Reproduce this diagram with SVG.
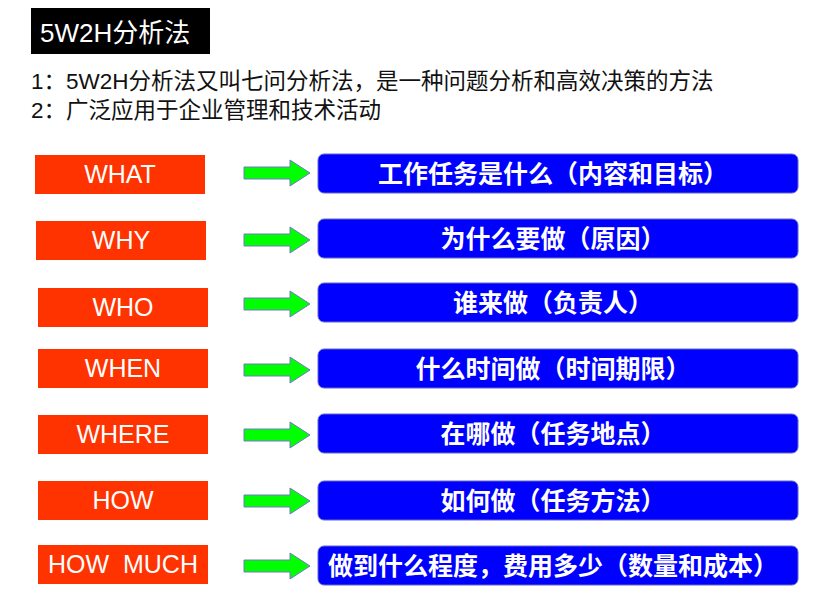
<svg xmlns="http://www.w3.org/2000/svg" width="831" height="605" viewBox="0 0 831 605">
<style>
.k{fill:#ff3300}
.b{fill:#0000ff;stroke:#6666cc;stroke-width:1}
.kt{font-family:"Liberation Sans","Noto Sans CJK SC",sans-serif;font-size:25px;fill:#fff;text-anchor:middle}
.bt{font-family:"Noto Sans CJK SC",sans-serif;font-size:25px;font-weight:bold;fill:#fff;text-anchor:middle}
.d{font-family:"Liberation Sans","Noto Sans CJK SC",sans-serif;font-size:22.5px;fill:#111}
.a{fill:#00ff00;stroke:#7777cc;stroke-width:1}
</style>
<defs><path id="ar" class="a" d="M244,-6 H290 V-13 L310,0 L290,13 V6 H244 Z"/></defs>
<rect width="831" height="605" fill="#fff"/>
<g id="title"><rect x="31" y="8" width="179" height="46" fill="#000"/>
<text x="40" y="42" font-family="Liberation Sans,'Noto Sans CJK SC',sans-serif" font-size="26" fill="#fff">5W2H分析法</text></g>
<g id="desc"><text class="d" x="31" y="89">1：5W2H分析法又叫七问分析法，是一种问题分析和高效决策的方法</text>
<text class="d" x="31" y="118">2：广泛应用于企业管理和技术活动</text></g>
<g id="connectors">
<use href="#ar" y="173"/><use href="#ar" y="240"/><use href="#ar" y="304"/><use href="#ar" y="370"/><use href="#ar" y="435"/><use href="#ar" y="501"/><use href="#ar" y="566"/>
</g>
<g id="n1"><rect class="k" x="35" y="155" width="170" height="39"/><text class="kt" x="120" y="183">WHAT</text></g>
<g id="n2"><rect class="k" x="36" y="221" width="170" height="39"/><text class="kt" x="121" y="249">WHY</text></g>
<g id="n3"><rect class="k" x="38" y="288" width="170" height="39"/><text class="kt" x="123" y="316">WHO</text></g>
<g id="n4"><rect class="k" x="38" y="349" width="170" height="39"/><text class="kt" x="123" y="377">WHEN</text></g>
<g id="n5"><rect class="k" x="38" y="415" width="170" height="39"/><text class="kt" x="123" y="443">WHERE</text></g>
<g id="n6"><rect class="k" x="38" y="481" width="170" height="39"/><text class="kt" x="123" y="509">HOW</text></g>
<g id="n7"><rect class="k" x="38" y="545" width="170" height="39"/><text class="kt" x="123" y="573" xml:space="preserve">HOW  MUCH</text></g>
<g id="m1"><rect class="b" x="318" y="154" width="480" height="39" rx="6"/><text class="bt" x="553" y="183">工作任务是什么（内容和目标）</text></g>
<g id="m2"><rect class="b" x="318" y="219" width="480" height="39" rx="6"/><text class="bt" x="553" y="248">为什么要做（原因）</text></g>
<g id="m3"><rect class="b" x="318" y="283" width="480" height="39" rx="6"/><text class="bt" x="553" y="312">谁来做（负责人）</text></g>
<g id="m4"><rect class="b" x="318" y="349" width="480" height="39" rx="6"/><text class="bt" x="553" y="378">什么时间做（时间期限）</text></g>
<g id="m5"><rect class="b" x="318" y="414" width="480" height="39" rx="6"/><text class="bt" x="553" y="443">在哪做（任务地点）</text></g>
<g id="m6"><rect class="b" x="318" y="481" width="480" height="39" rx="6"/><text class="bt" x="553" y="510">如何做（任务方法）</text></g>
<g id="m7"><rect class="b" x="318" y="546" width="480" height="39" rx="6"/><text class="bt" x="553" y="575">做到什么程度，费用多少（数量和成本）</text></g>
</svg>
